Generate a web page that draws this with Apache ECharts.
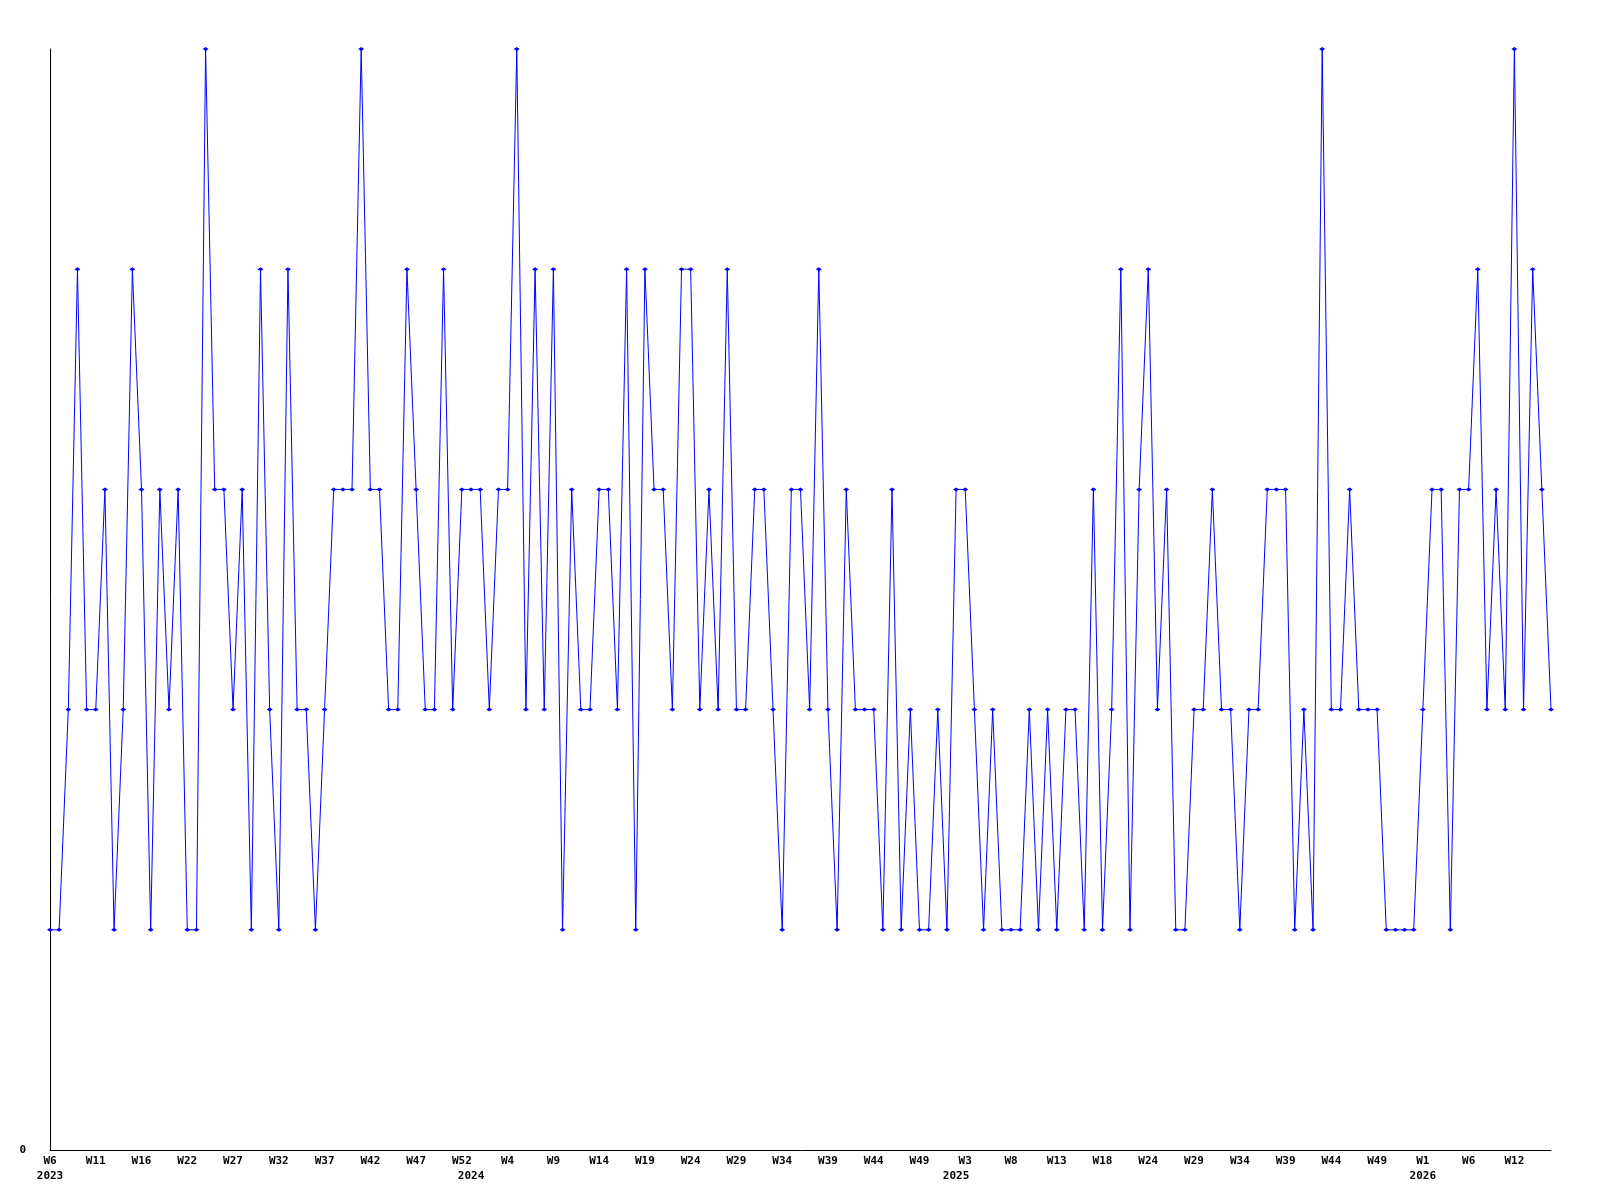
<!DOCTYPE html>
<html>
<head>
<meta charset="utf-8">
<script src="https://cdn.jsdelivr.net/npm/echarts@6/dist/echarts.min.js"></script>
<style>
  html, body { margin: 0; padding: 0; background: #fff; }
  #main { width: 1600px; height: 1200px; }
</style>
</head>
<body>
<div id="main"></div>
<script>
// one value per point (levels 1..5)
var values = [
  1,1,2,4,2,2,3,1,2,4,
  3,1,3,2,3,1,1,5,3,3,
  2,3,1,4,2,1,4,2,2,1,
  2,3,3,3,5,3,3,2,2,4,
  3,2,2,4,2,3,3,3,2,3,
  3,5,2,4,2,4,1,3,2,2,
  3,3,2,4,1,4,3,3,2,4,
  4,2,3,2,4,2,2,3,3,2,
  1,3,3,2,4,2,1,3,2,2,
  2,1,3,1,2,1,1,2,1,3,
  3,2,1,2,1,1,1,2,1,2,
  1,2,2,1,3,1,2,4,1,3,
  4,2,3,1,1,2,2,3,2,2,
  1,2,2,3,3,3,1,2,1,5,
  2,2,3,2,2,2,1,1,1,1,
  2,3,3,1,3,3,4,2,3,2,
  5,2,4,3,2
];

// week labels, one every 5 points
var weekLabels = ['W6','W11','W16','W22','W27','W32','W37','W42','W47','W52',
  'W4','W9','W14','W19','W24','W29','W34','W39','W44','W49',
  'W3','W8','W13','W18','W24','W29','W34','W39','W44','W49',
  'W1','W6','W12'];
var labelStep = 5;

// year labels and the point they sit under
var yearLabels = ['2023','2024','2025','2026'];
var yearIndex = [0, 46, 99, 150];

var categories = values.map(function (v, i) { return i; });

var myChart = echarts.init(document.getElementById('main'), null, { renderer: 'canvas' });

var option = {
  backgroundColor: '#ffffff',
  animation: false,
  grid: { left: 50, right: 49, top: 49, bottom: 50 },
  xAxis: {
    type: 'category',
    boundaryGap: false,
    data: categories,
    axisLine: { lineStyle: { color: '#000', width: 1 } },
    axisTick: { show: false },
    splitLine: { show: false },
    axisLabel: {
      interval: 0,
      hideOverlap: false,
      margin: 4,
      color: '#000',
      fontFamily: 'DejaVu Sans Mono',
      fontWeight: 'bold',
      fontSize: 11,
      lineHeight: 15,
      formatter: function (val, idx) {
        var w = (idx % labelStep === 0) ? (weekLabels[idx / labelStep] || '') : '';
        var y = yearIndex.indexOf(idx);
        if (y >= 0) return w + '\n' + yearLabels[y];
        return w;
      }
    }
  },
  yAxis: {
    type: 'value',
    min: 0,
    max: 5,
    interval: 5,
    axisLine: { show: true, lineStyle: { color: '#000', width: 1 } },
    axisTick: { show: false },
    splitLine: { show: false },
    axisLabel: {
      margin: 24,
      color: '#000',
      fontFamily: 'DejaVu Sans Mono',
      fontWeight: 'bold',
      fontSize: 11,
      formatter: function (v) { return v === 0 ? '0' : ''; }
    }
  },
  series: [{
    type: 'line',
    data: values,
    symbol: 'diamond',
    symbolSize: [6, 4],
    showAllSymbol: true,
    lineStyle: { color: '#0000ff', width: 1 },
    itemStyle: { color: '#0000ff' }
  }]
};
myChart.setOption(option);
</script>
</body>
</html>
